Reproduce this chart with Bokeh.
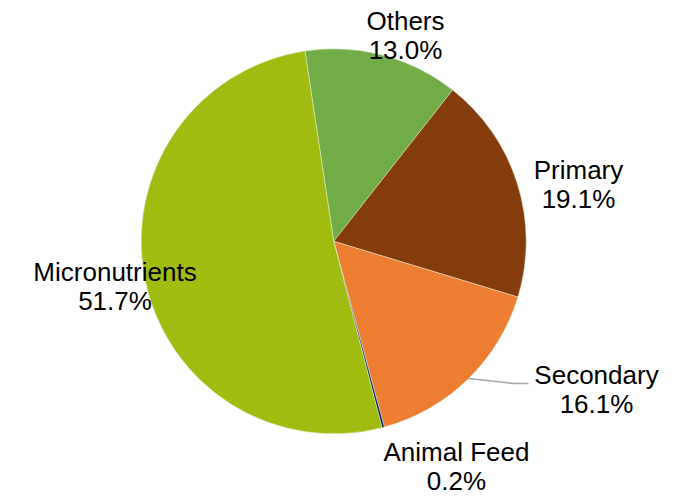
import numpy as np
from bokeh.plotting import figure
from bokeh.models import ColumnDataSource
from bokeh.core.properties import value
from bokeh.embed import file_html
from bokeh.resources import INLINE

# Data (clockwise order)
categories = ["Others", "Primary", "Secondary", "Animal Feed", "Micronutrients"]
shares = [13.0, 19.1, 16.1, 0.2, 51.7]
colors = ["#70AD47", "#843C0C", "#ED7D31", "#002060", "#A0BC10"]
pct_labels = ["13.0%", "19.1%", "16.1%", "0.2%", "51.7%"]

# Layout (page pixel coordinates)
W, H = 684, 496
cx_page, cy_page, radius = 333.2, 240.8, 192.5
start_deg = -8.6  # clockwise from 12 o'clock
label_x = [405, 578, 596, 456, 114.5]
label_base1 = [20, 169, 374, 451, 271]
line_gap = 29

def ty(py):
    return H - py

def tx(px):
    return px

p = figure(width=W, height=H, x_range=(0, W), y_range=(0, H),
           output_backend="svg", toolbar_location=None, min_border=0)
p.axis.visible = False
p.grid.visible = False
p.outline_line_color = None
p.background_fill_color = "white"
p.border_fill_color = "white"

total = sum(shares)
cum = np.cumsum([0] + shares)
theta0 = start_deg + cum[:-1] / total * 360.0
theta1 = start_deg + cum[1:] / total * 360.0
start = np.radians(90 - theta0)
end = np.radians(90 - theta1)

src = ColumnDataSource(dict(x=[tx(cx_page)] * len(shares), y=[ty(cy_page)] * len(shares),
                            start=start, end=end, color=colors))
p.wedge(x="x", y="y", radius=radius, start_angle="start", end_angle="end",
        direction="clock", fill_color="color", line_color="#E8EED8", line_width=0.5,
        source=src)

# Leader line for Secondary
p.line(x=[tx(468), tx(513), tx(528)], y=[ty(378), ty(383), ty(383)],
       line_color="#A6A6A6", line_width=1.5)

lsrc = ColumnDataSource(dict(
    x=[tx(v) for v in label_x] * 2,
    y=[ty(b) for b in label_base1] + [ty(b + line_gap) for b in label_base1],
    t=categories + pct_labels,
))
p.text(x="x", y="y", text="t", source=lsrc, text_align="center",
       text_baseline="alphabetic", text_font=value("Liberation Sans"),
       text_font_size="26px", text_color="black")

open("out.html", "w").write(file_html(p, INLINE))
